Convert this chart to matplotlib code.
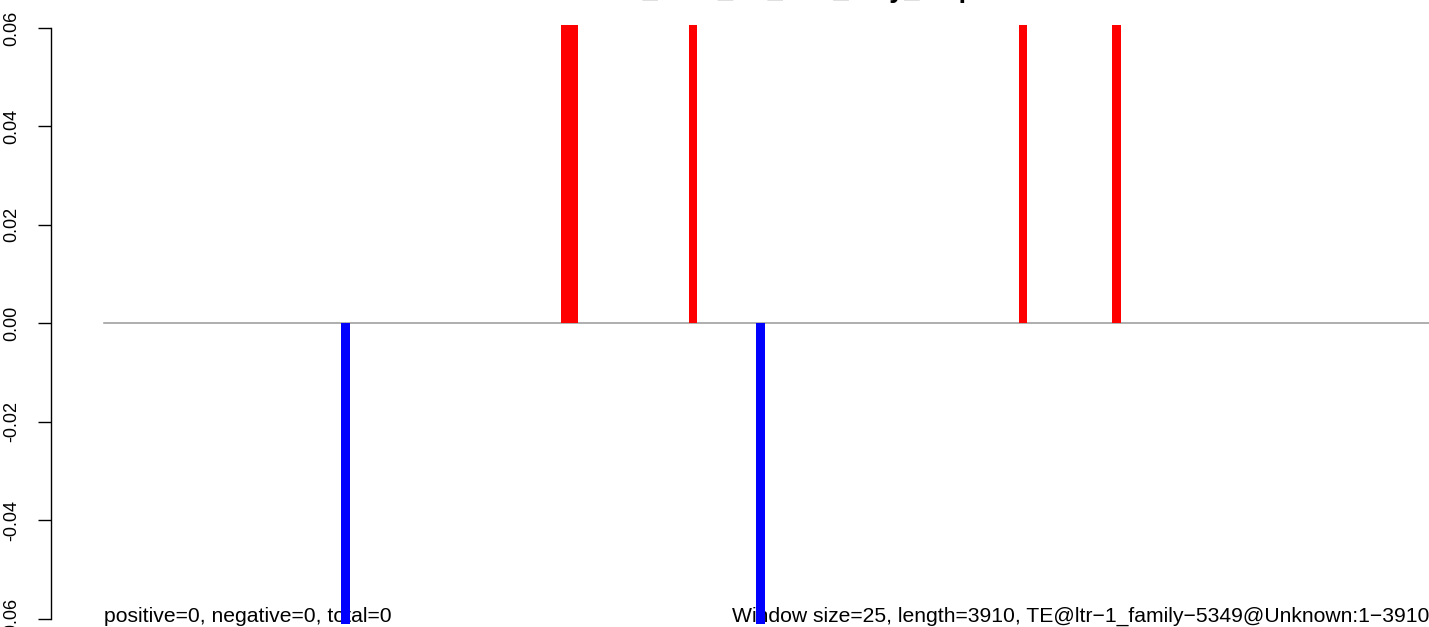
import matplotlib
matplotlib.use('Agg')
import matplotlib.pyplot as plt

plt.rcParams['font.family'] = ['Liberation Sans', 'DejaVu Sans']

# data
window_size = 25
seq_length = 3910
pos_windows = [54, 55, 69, 108, 119]      # window index of red bars
pos_values = [0.1, 0.1, 0.1, 0.1, 0.1]    # all run past the top of the axis
neg_windows = [28, 77]
neg_values = [-0.1, -0.1]                 # run past the bottom
y_ticks = [-0.06, -0.04, -0.02, 0.00, 0.02, 0.04, 0.06]
title = 'Total_level_TE_LTR_only_map'
left_note = 'positive=0, negative=0, total=0'
right_note = 'Window size=25, length=3910, TE@ltr\u22121_family\u22125349@Unknown:1\u22123910'

W, H = 1429, 627
fig = plt.figure(figsize=(W / 100, H / 100), dpi=100)
# plot region in pixels (right edge runs off the picture, like the original)
l, r, t, b = 51, 1482, 25, 624
ax = fig.add_axes([l / W, (H - b) / H, (r - l) / W, (b - t) / H])

pad = 0.04 * seq_length
ax.set_xlim(-pad, seq_length + pad)
ax.set_ylim(-0.0611, 0.0606)

ax.bar([w * window_size for w in pos_windows], pos_values, width=window_size,
       align='edge', color='red', zorder=3)
ax.bar([w * window_size for w in neg_windows], neg_values, width=window_size,
       align='edge', color='blue', zorder=3)
ax.plot([0, seq_length], [0, 0], color='#999999', lw=1.1, zorder=2)

ax.text(0, -0.0606, left_note, ha='left', va='baseline', fontsize=15.2, zorder=1)
ax.text(seq_length, -0.0606, right_note, ha='right', va='baseline', fontsize=15.2, zorder=1)

for s in ['top', 'right', 'bottom']:
    ax.spines[s].set_visible(False)
ax.spines['left'].set_bounds(-0.06, 0.06)
ax.spines['left'].set_linewidth(1.0)
ax.set_xticks([])
ax.set_yticks(y_ticks)
ax.set_yticklabels(['%.2f' % v for v in y_ticks])
ax.tick_params(axis='y', length=9.5, width=1.0, pad=12.5, labelsize=13, labelrotation=90)
for lab in ax.get_yticklabels():
    lab.set_va('center')

fig.text(778 / W, 1 + 3 / H, title, ha='center', va='baseline',
         fontsize=19.5, fontweight='bold')

fig.savefig('out.png', dpi=100)
